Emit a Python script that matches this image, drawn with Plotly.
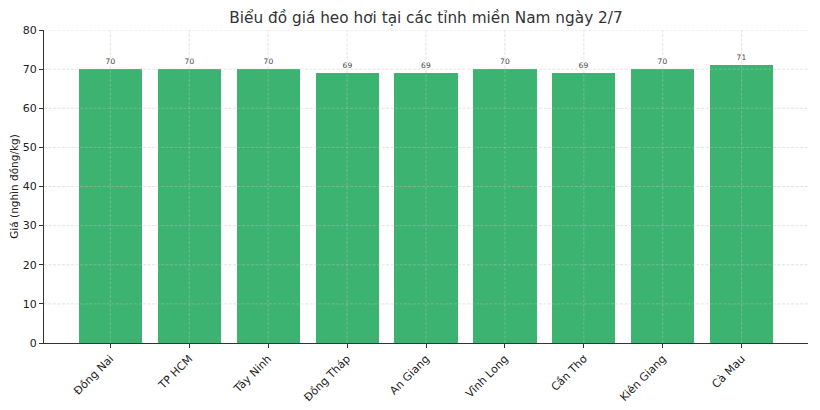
import plotly.graph_objects as go

# --- DATA ---
provinces = ["Đồng Nai", "TP HCM", "Tây Ninh", "Đồng Tháp", "An Giang",
             "Vĩnh Long", "Cần Thơ", "Kiên Giang", "Cà Mau"]
prices = [70, 70, 70, 69, 69, 70, 69, 70, 71]
y_ticks = [0, 10, 20, 30, 40, 50, 60, 70, 80]

fig = go.Figure(go.Bar(
    x=list(range(len(provinces))),
    y=prices,
    width=0.8,
    marker=dict(color="#3cb371", line=dict(width=0)),
    text=[str(p) for p in prices],
    textposition="outside",
    textfont=dict(size=7.5, color="#444444"),
    cliponaxis=False,
))

# matplotlib-style dashed grid drawn on top of the bars
grid = dict(color="rgba(190,190,190,0.55)", width=0.8, dash="3px,1.5px")
for i in range(len(provinces)):
    fig.add_shape(type="line", xref="x", yref="paper", x0=i, x1=i, y0=0, y1=1,
                  line=grid, layer="above")
for v in y_ticks[1:]:
    fig.add_shape(type="line", xref="paper", yref="y", x0=0, x1=1, y0=v, y1=v,
                  line=grid, layer="above")

# page body has an 8px margin, so the figure is a bit smaller than the window
fig.update_layout(
    width=812, height=402,
    margin=dict(l=36, r=12, t=22, b=67, autoexpand=False),
    paper_bgcolor="white", plot_bgcolor="white",
    font=dict(family="DejaVu Sans", color="#222222"),
    title=dict(text="Biểu đồ giá heo hơi tại các tỉnh miền Nam ngày 2/7",
               xref="paper", x=0.5, xanchor="center", y=0.99, yanchor="top",
               font=dict(size=15.3, color="#333333")),
    showlegend=False,
    bargap=0,
)

fig.update_xaxes(
    range=[-0.84, 8.84], automargin=False,
    tickmode="array", tickvals=list(range(len(provinces))), ticktext=provinces,
    tickangle=-45, tickfont=dict(size=11),
    ticks="outside", ticklen=4, tickcolor="#333333",
    showline=True, linecolor="#333333", linewidth=1,
    showgrid=False, zeroline=False,
)
fig.update_yaxes(
    range=[0, 80], tickvals=y_ticks, automargin=False,
    tickfont=dict(size=11),
    ticks="outside", ticklen=4, tickcolor="#333333",
    showline=True, linecolor="#333333", linewidth=1,
    showgrid=False, zeroline=False,
    title=dict(text="Giá (nghìn đồng/kg)", font=dict(size=10.5), standoff=6),
)

fig.write_html("out.html")
